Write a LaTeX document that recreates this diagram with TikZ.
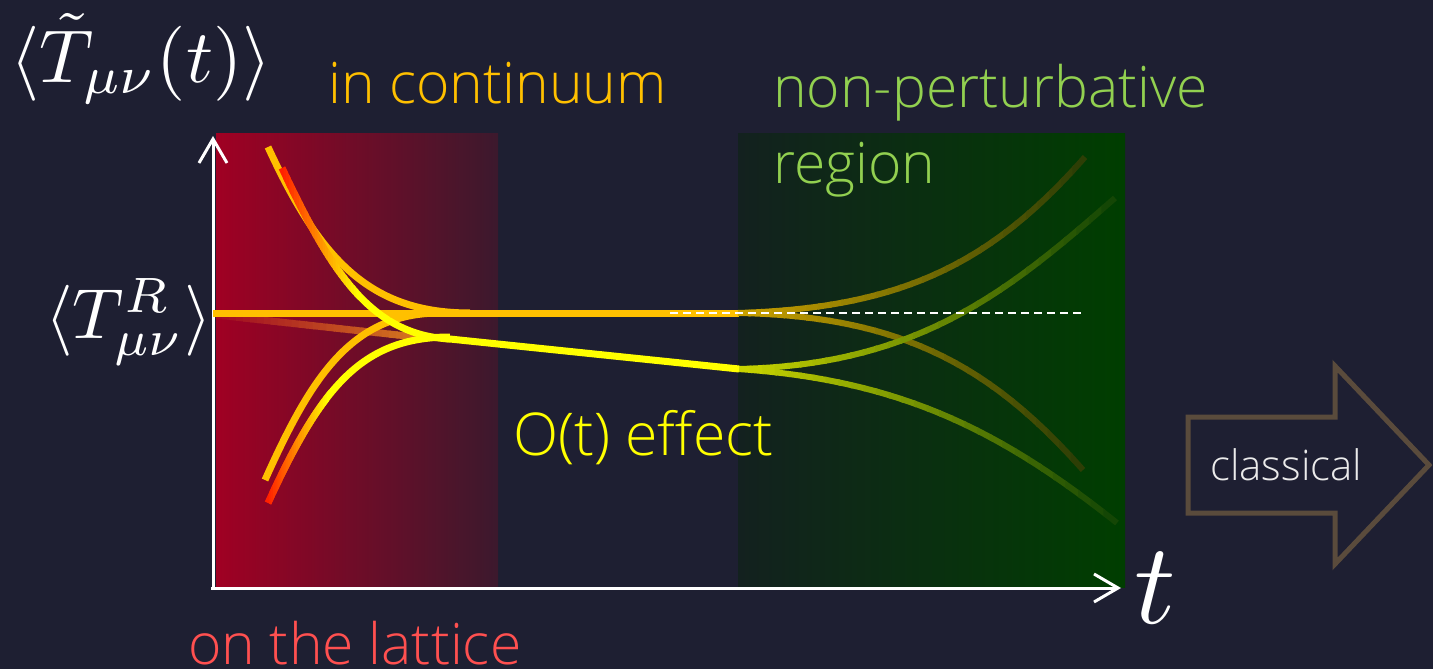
\documentclass[tikz,border=0pt]{standalone}
\usepackage{fontspec}
\newfontfamily\lf{Open Sans Light}
\usetikzlibrary{arrows.meta}
\definecolor{bg}{RGB}{30,31,50}
\definecolor{redL}{RGB}{160,0,35}
\definecolor{redR}{RGB}{60,25,45}
\definecolor{grL}{RGB}{19,33,31}
\definecolor{grR}{RGB}{0,62,0}
\definecolor{orng}{RGB}{255,192,0}
\definecolor{ylw}{RGB}{255,255,0}
\definecolor{rd}{RGB}{255,32,0}
\definecolor{faintA}{RGB}{160,10,35}
\definecolor{faintB}{RGB}{215,120,30}
\definecolor{oA}{RGB}{200,160,0}
\definecolor{oB}{RGB}{45,62,5}
\definecolor{yA}{RGB}{200,212,0}
\definecolor{yB}{RGB}{20,70,5}
\definecolor{conttxt}{RGB}{255,192,0}
\definecolor{nptxt}{RGB}{146,208,80}
\definecolor{lattxt}{RGB}{255,80,80}
\definecolor{arrbrown}{RGB}{90,75,60}
\definecolor{clstxt}{RGB}{235,235,235}
% gradient stroke by vertical strips: #1 path, #2 x0, #3 x1, #4 start colour, #5 end colour, #6 width
\newcommand\gradpath[6]{%
  \foreach \k in {0,...,29}{%
    \pgfmathsetmacro\xa{(\k==0) ? (#2-1500) : (#2+(#3-#2)*\k/30-1)}%
    \pgfmathsetmacro\xb{(\k==29) ? (#3+1500) : (#2+(#3-#2)*(\k+1)/30+1)}%
    \pgfmathtruncatemacro\pp{100*\k/29}%
    \begin{scope}
      \clip (\xa,-10) rectangle (\xb,680);
      \draw[line width=#6, color=#5!\pp!#4] #1;
    \end{scope}
  }}
\tikzset{
  lbl/.style={anchor=base west, inner sep=0pt, font=\lf\fontsize{57}{68}\selectfont},
  mathlbl/.style={anchor=base west, inner sep=0pt, text=white},
  axis/.style={draw=white, line width=3pt, -{Straight Barb[length=24pt,width=28pt,line width=3pt]}},
}
\begin{document}
\begin{tikzpicture}[x=1pt,y=-1pt]
\fill[bg] (0,0) rectangle (1433,669);
\useasboundingbox (0,0) rectangle (1433,669);
% shaded regions
\shade[left color=redL, right color=redR] (216,133) rectangle (498,587);
\shade[left color=grL, right color=grR] (738,133) rectangle (1125,587);
% axes
\coordinate (O) at (213,588);
\coordinate (Ytop) at (213,136);
\coordinate (Xend) at (1121,588);
\draw[axis] (213,590) -- (Ytop);
\draw[axis] (211,588) -- (Xend);
% faint line
\gradpath{(216,315) -- (425,338)}{216}{425}{faintA}{faintB}{7pt}
% horizontal orange line
\draw[line width=7pt, orng] (213,313) -- (739,313);
% right branches from horizontal
\gradpath{(738,313) .. controls (900,308) and (990,265) .. (1085,157)}{738}{1085}{oA}{oB}{6pt}
\gradpath{(738,313) .. controls (900,316) and (990,365) .. (1083,470)}{738}{1083}{oA}{oB}{6pt}
% right branches from lower line
\gradpath{(738,369) .. controls (920,365) and (1010,290) .. (1115,198)}{738}{1115}{yA}{yB}{6pt}
\gradpath{(738,369) .. controls (900,380) and (1000,430) .. (1117,523)}{738}{1117}{yA}{yB}{6pt}
% orange curves
\draw[line width=7pt, orng] (268,147) .. controls (320,260) and (370,313) .. (470,313);
\draw[line width=7pt, orng] (265,480) .. controls (310,380) and (350,313) .. (440,313);
% red to yellow curves
\gradpath{(282,168) .. controls (330,270) and (370,335) .. (450,339)}{282}{360}{rd}{ylw}{7pt}
\gradpath{(268,503) .. controls (320,390) and (360,337) .. (450,337)}{268}{330}{rd}{ylw}{7pt}
% lower yellow line
\draw[line width=7pt, ylw] (445,338.5) -- (739,369);
% dashed reference
\draw[white, line width=2pt, dash pattern=on 8pt off 5pt] (670,313) -- (1083,313);
% labels
\node[mathlbl] (Tt) at (10,82) {\scalebox{7.5}{$\langle\tilde T_{\mu\nu}(t)\rangle$}};
\node[mathlbl] (TR) at (45,338) {\scalebox{7.1}{$\langle T^R_{\mu\nu}\rangle$}};
\node[mathlbl] (tlab) at (1134,623) {\scalebox{11.5}{$t$}};
\node[lbl, text=conttxt] (cont) at (328,103) {in continuum};
\node[lbl, text=nptxt] (np1) at (773,107) {non-perturbative};
\node[lbl, text=nptxt] (np2) at (773,183) {region};
\node[lbl, text=ylw, font=\lf\fontsize{59}{70}\selectfont] (ot) at (513,455) {O(t) effect};
\node[lbl, text=lattxt] (lat) at (188,664) {on the lattice};
% classical arrow
\draw[arrbrown, line width=5pt, line join=miter]
  (1188,417) -- (1335,417) -- (1335,366) -- (1429,465) -- (1335,564) -- (1335,513) -- (1188,513) -- cycle;
\node[anchor=base west, inner sep=0pt, text=clstxt, font=\lf\fontsize{42}{50}\selectfont] (cls) at (1210,480) {classical};
\end{tikzpicture}
\end{document}
